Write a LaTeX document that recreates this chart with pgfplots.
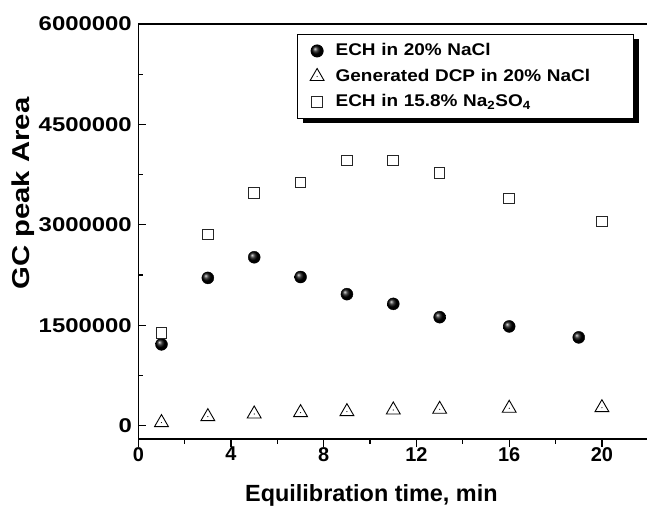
\documentclass[border=0pt]{standalone}
\usepackage{pgfplots}
\pgfplotsset{compat=1.18}
\usepackage{fontspec}
\setmainfont{Liberation Sans}
\newfontface\ytickfont[FakeStretch=1.2]{Liberation Sans Bold}
\newfontface\ylabfont[FakeStretch=1.2]{Liberation Sans Bold}
\newfontface\legfont[FakeStretch=1.12]{Liberation Sans Bold}
\usetikzlibrary{shadows}
\pgfdeclareplotmark{tridot}{%
  \pgfuseplotmark{triangle}%
  \pgfpathcircle{\pgfpointorigin}{0.6bp}%
  \pgfsetfillcolor{black}\pgfusepathqfill}
\pgfplotsset{myleg/.style={legend image code/.code={\path (-15bp,0bp) (15bp,0bp); \draw[##1] plot coordinates {(0bp,0bp)};}}}
\begin{document}
\begin{tikzpicture}
\path[use as bounding box] (-138.3bp,-68bp) rectangle (508.7bp,439bp);
\begin{axis}[
  at={(0,0)}, anchor=south west,
  scale only axis, width=512.3bp, height=415bp,
  xmin=0, xmax=22.1, ymin=-200000, ymax=6000000,
  scaled y ticks=false, scaled x ticks=false,
  xtick={0,4,8,12,16,20}, xticklabels={0,4,8,12,16,20},
  minor xtick={2,6,10,14,18,22},
  ytick={0,1500000,3000000,4500000,6000000},
  yticklabels={0,1500000,3000000,4500000,6000000},
  minor ytick={750000,2250000,3750000,5250000},
  xtick pos=left, ytick pos=left,
  xtick align=outside, ytick align=inside,
  major tick length=8bp, minor tick length=4.5bp,
  tick style={line width=1.3bp, black},
  axis line style={line width=1.5bp},
  xticklabel style={font=\fontsize{20}{24}\selectfont\bfseries, inner sep=0pt, anchor=north},
  yticklabel style={font=\fontsize{20}{24}\selectfont\ytickfont, inner sep=0pt, anchor=east, xshift=-6.3bp},
  xlabel={Equilibration time, min},
  ylabel={GC peak Area},
  xlabel style={at={(axis description cs:0.455,-0.1494)}, anchor=base, inner sep=0pt, font=\fontsize{23.5}{28}\selectfont\bfseries},
  ylabel style={at={(axis description cs:-0.225,0.5916)}, anchor=center, inner sep=0pt, font=\fontsize{24.5}{28}\selectfont\ylabfont},
  legend cell align=left,
  legend style={at={(axis description cs:0.31,0.976)}, anchor=north west,
    draw=black, line width=1bp, fill=white,
    drop shadow={shadow xshift=5bp, shadow yshift=-5bp, opacity=1, fill=black},
    font=\fontsize{17}{20}\selectfont\legfont,
    row sep=0pt, inner xsep=4bp, inner ysep=3.75bp,
    nodes={inner xsep=3bp, inner ysep=3.75bp, text height=14bp, text depth=4bp},
    /tikz/every even column/.append style={text width=291bp}},
]
\addplot[only marks, mark=ball, mark size=6bp, mark options={ball color=black}, myleg] coordinates {
  (1,1214000) (3,2207000) (5,2515000) (7,2220000) (9,1964000)
  (11,1819000) (13,1620000) (16,1482000) (19,1318000)};
\addlegendentry{ECH in 20\% NaCl}
\addplot[only marks, mark=tridot, mark size=8bp, mark options={draw=black, line width=0.9bp}, myleg] coordinates {
  (1,45000) (3,134000) (5,174000) (7,194000) (9,209000)
  (11,234000) (13,244000) (16,259000) (20,268000)};
\addlegendentry{Generated DCP in 20\% NaCl}
\addplot[only marks, mark=square, mark size=5.3bp, mark options={draw=black!85, line width=1bp, fill=none}, myleg] coordinates {
  (1,1387000) (3,2854000) (5,3474000) (7,3634000) (9,3962000)
  (11,3962000) (13,3772000) (16,3395000) (20,3048000)};
\addlegendentry{ECH in 15.8\% Na\textsubscript{2}SO\textsubscript{4}}
\draw[line width=3bp] (rel axis cs:0,1) -- (rel axis cs:1,1);
\end{axis}
\end{tikzpicture}
\end{document}
